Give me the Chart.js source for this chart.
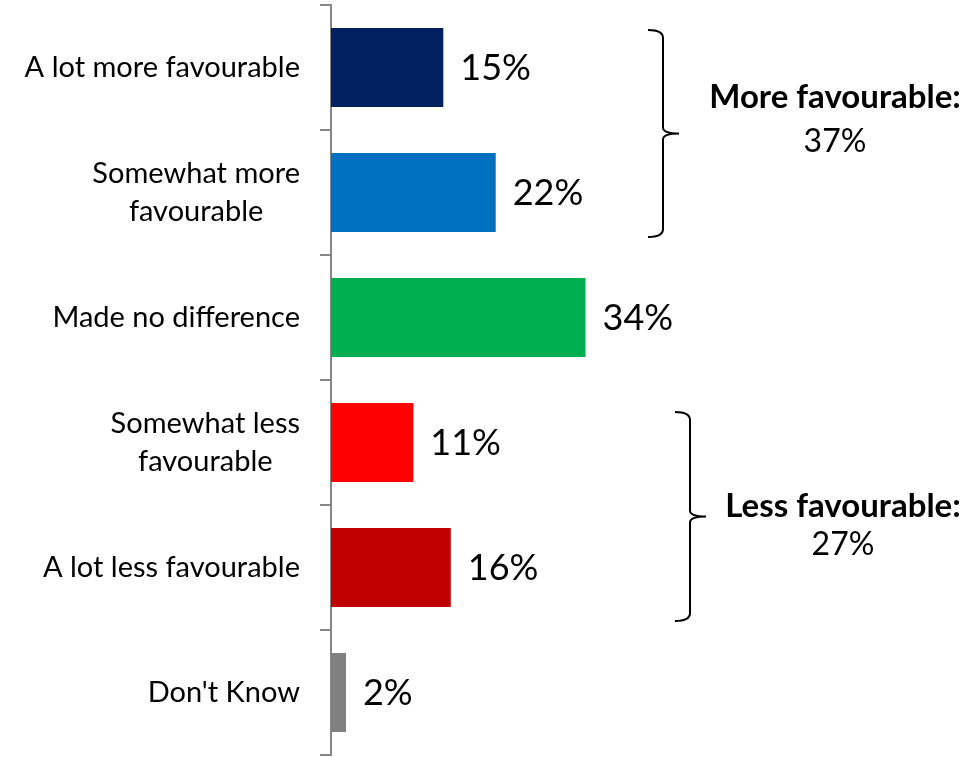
<!DOCTYPE html>
<html>
<head>
<meta charset="utf-8">
<script src="https://cdn.jsdelivr.net/npm/chart.js@4.4.1/dist/chart.umd.min.js"></script>
<style>
  body { margin: 0; background: #fff; }
  canvas { display: block; }
</style>
</head>
<body>
<canvas id="myChart" width="971" height="757"></canvas>
<script>
// data
const categories = [
  ["A lot more favourable"],
  ["Somewhat more", "favourable"],
  ["Made no difference"],
  ["Somewhat less", "favourable"],
  ["A lot less favourable"],
  ["Don't Know"],
];
const values = [15, 22, 34, 11, 16, 2];
const barColors = ["#002060", "#0070C0", "#00B050", "#FF0000", "#C00000", "#808080"];

// grouped totals shown with braces
const groupNames = ["More favourable:", "Less favourable:"];
const groupTotals = [37, 27];
const groupFrom = [0, 3];
const groupTo = [1, 4];

// draws category labels, value labels and the braces
const annotations = {
  id: "annotations",
  afterDraw(chart) {
    const ctx = chart.ctx;
    const area = chart.chartArea;
    const yScale = chart.scales.y;
    const meta = chart.getDatasetMeta(0);

    ctx.save();
    ctx.fillStyle = "#000";
    ctx.textBaseline = "middle";

    // category labels (lines centred, block right aligned)
    ctx.font = "29px Lato";
    ctx.textAlign = "center";
    categories.forEach((lines, i) => {
      const y = yScale.getPixelForValue(i);
      const maxW = Math.max(...lines.map((l) => ctx.measureText(l).width));
      const cx = area.left - 31 - maxW / 2;
      lines.forEach((l, j) => {
        ctx.fillText(l, cx, y + (j - (lines.length - 1) / 2) * 38);
      });
    });

    // value labels
    ctx.font = "36px Lato";
    ctx.textAlign = "left";
    meta.data.forEach((bar, i) => {
      ctx.fillText(values[i] + "%", bar.x + 17, bar.y + 1);
    });

    // braces
    const braceX = [area.left + 332, area.left + 359];
    const padTop = [2, 9];
    const padBottom = [5, 14];
    const textDx = [172, 153];
    const line1 = [-36, -10];
    const line2 = [8, 28];
    ctx.strokeStyle = "#000";
    ctx.lineWidth = 2;
    groupNames.forEach((name, g) => {
      const first = meta.data[groupFrom[g]];
      const last = meta.data[groupTo[g]];
      const top = first.y - first.height / 2 + padTop[g];
      const bottom = last.y + last.height / 2 + padBottom[g];
      const mid = (top + bottom) / 2;
      const bx = braceX[g];
      ctx.beginPath();
      ctx.moveTo(bx - 15, top);
      ctx.quadraticCurveTo(bx, top, bx, top + 8);
      ctx.lineTo(bx, mid - 6);
      ctx.quadraticCurveTo(bx, mid, bx + 16, mid);
      ctx.quadraticCurveTo(bx, mid, bx, mid + 6);
      ctx.lineTo(bx, bottom - 8);
      ctx.quadraticCurveTo(bx, bottom, bx - 15, bottom);
      ctx.stroke();

      ctx.textAlign = "center";
      ctx.font = "bold 33px Lato";
      ctx.fillText(name, bx + textDx[g], mid + line1[g]);
      ctx.font = "32px Lato";
      ctx.fillText(groupTotals[g] + "%", bx + textDx[g], mid + line2[g]);
    });
    ctx.restore();
  },
};

Chart.defaults.font.family = "Lato";

const data = {
  labels: categories,
  datasets: [
    {
      data: values,
      backgroundColor: barColors,
      borderWidth: 0,
      categoryPercentage: 1,
      barPercentage: 0.632,
    },
  ],
};

const config = {
  type: "bar",
  data: data,
  plugins: [annotations],
  options: {
    indexAxis: "y",
    responsive: false,
    animation: false,
    layout: {
      padding: { left: 320, top: 5, bottom: 2, right: 187 },
    },
    plugins: {
      legend: { display: false },
      tooltip: { enabled: false },
    },
    scales: {
      x: {
        display: false,
        min: 0,
        max: 60.5,
      },
      y: {
        ticks: { display: false },
        grid: {
          drawOnChartArea: false,
          tickLength: 11,
          color: "#868686",
          lineWidth: 2,
        },
        border: { color: "#868686", width: 2 },
      },
    },
  },
};

const ctx = document.getElementById("myChart").getContext("2d");
new Chart(ctx, config);
</script>
</body>
</html>
